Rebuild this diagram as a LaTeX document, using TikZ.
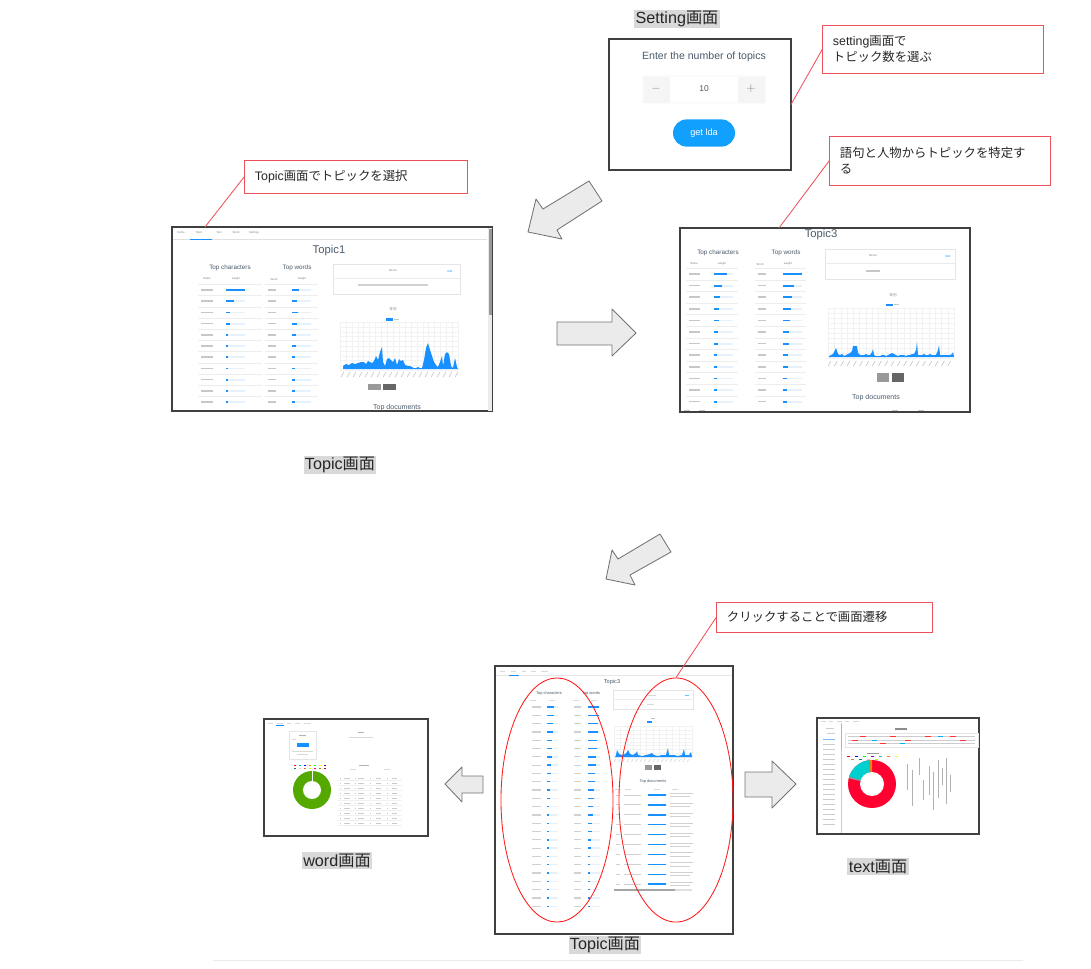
\documentclass[tikz,border=0pt]{standalone}
\usepackage{fontspec}
\setmainfont{Liberation Sans}
\newfontfamily\jp{Noto Sans CJK JP}
\usetikzlibrary{shapes.geometric}
\definecolor{antblue}{HTML}{1890FF}
\definecolor{trackblue}{HTML}{E6F1FC}
\definecolor{titlegray}{HTML}{4A5A6A}
\definecolor{notered}{HTML}{F0505A}
\definecolor{btnblue}{HTML}{12A0FF}
\definecolor{donutred}{HTML}{FF0030}
\definecolor{donutcyan}{HTML}{00CFCF}
\definecolor{donutgreen}{HTML}{55A800}
\tikzset{
  screen/.style={draw=black!75, line width=0.8pt, fill=white, inner sep=0pt, outer sep=0pt},
  note/.style={draw=notered, line width=0.7pt, inner xsep=0.25cm, inner ysep=0pt, align=left,
    font=\fontsize{8.8}{11.5}\selectfont, text=black!85},
  leader/.style={notered, line width=0.6pt},
  caption/.style={fill=black!15, inner sep=1pt, font=\fontsize{11.5}{13}\selectfont, text=black!85},
  blockarrow/.style={draw=black!55, fill=black!8, line width=0.6pt, line join=round},
  track/.style={fill=trackblue},
  barfill/.style={fill=antblue},
  ph/.style={fill=black!22},
  smalltxt/.style={font=\fontsize{2}{2}\selectfont, text=black!50, inner sep=0pt},
  head/.style={font=\fontsize{4.5}{5}\selectfont, text=titlegray, inner sep=0pt},
  grid line/.style={black!5, line width=0.15pt},
}
\begin{document}
\begin{tikzpicture}[x=0.025cm, y=-0.025cm]
\useasboundingbox (0,0) rectangle (1091,968);

% ---------- Setting screen ----------
\node[caption] (setcap) at (677,19) {Setting{\jp 画面}};
\node[screen, minimum width=4.55cm, minimum height=3.275cm] (setscreen) at (700,104.5) {};
\node[font=\fontsize{7.5}{9}\selectfont, text=titlegray] (enter) at (704,57) {Enter the number of topics};
\draw[black!10, fill=white, rounded corners=1pt, line width=0.3pt] (643,76) rectangle (765,103);
\fill[black!4] (643.5,76.5) rectangle (670,102.5);
\fill[black!4] (738,76.5) rectangle (764.5,102.5);
\node[text=black!45, font=\fontsize{8}{9}\selectfont] (minus) at (656,89) {$-$};
\node[text=black!45, font=\fontsize{8}{9}\selectfont] (plus) at (751,89) {$+$};
\node[text=black!65, font=\fontsize{6}{7}\selectfont] (num) at (704,89) {10};
\node[fill=btnblue, rounded corners=0.34cm, minimum width=1.55cm, minimum height=0.68cm,
  text=white, font=\fontsize{6.5}{7}\selectfont] (getlda) at (704,133) {get lda};

% ---------- notes ----------
\node[note, minimum width=5.5cm, minimum height=1.2cm, text width=5cm] (setnote) at (933,49)
  {setting{\jp 画面で}\\{\jp トピック数を選ぶ}};
\node[note, minimum width=5.5cm, minimum height=1.225cm, text width=5cm] (wordnote) at (940,160.5)
  {{\jp 語句と人物からトピックを特定す}\\{\jp る}};
\node[note, minimum width=5.55cm, minimum height=0.825cm, text width=5.05cm] (selnote) at (356,176.5)
  {Topic{\jp 画面でトピックを選択}};
\node[note, minimum width=5.375cm, minimum height=0.75cm, text width=4.875cm] (clicknote) at (824.5,617)
  {{\jp クリックすることで画面遷移}};

% ---------- Topic1 screen ----------
\node[screen, minimum width=8cm, minimum height=4.6cm] (topic1) at (332,319) {};
\coordinate (t1tab) at (205,227);
\foreach \x/\t in {181/Home, 199/Topic, 219/Text, 236/Word, 254/Settings}
  \node[smalltxt] at (\x,232.5) {\t};
\draw[black!12, line width=0.2pt] (173,239.5) -- (487,239.5);
\draw[antblue, line width=0.4pt] (190,239.2) -- (212,239.2);
\fill[black!8] (488,228) rectangle (492,411);
\fill[black!40] (488.5,229) rectangle (491.5,315);
\node[font=\fontsize{8}{9}\selectfont, text=titlegray] (t1title) at (329,251) {Topic1};
\node[head] (t1chars) at (230,268) {Top characters};
\node[head] (t1words) at (297,268) {Top words};
\foreach \x/\t in {207/Name, 236/weight, 274/Word, 302/weight}
  \node[smalltxt] at (\x,279) {\t};
\foreach \i/\c/\w in {0/19/7, 1/8/5, 2/4/6, 3/4/5, 4/1.5/4, 5/1.5/4, 6/1.5/3, 7/1.5/3, 8/1.5/3, 9/1.5/3, 10/1.5/3} {
  \pgfmathsetmacro\y{290+11.2*\i}
  \draw[black!7, line width=0.2pt] (198,\y-5.6) -- (262,\y-5.6) (265,\y-5.6) -- (318,\y-5.6);
  \fill[ph] (201,\y-0.8) rectangle (213,\y+0.8);
  \fill[track] (226,\y-0.9) rectangle (245,\y+0.9);
  \fill[barfill] (226,\y-0.9) rectangle (226+\c,\y+0.9);
  \fill[ph] (268,\y-0.8) rectangle (276,\y+0.8);
  \fill[track] (292,\y-0.9) rectangle (311,\y+0.9);
  \fill[barfill] (292,\y-0.9) rectangle (292+\w,\y+0.9);
}
\draw[black!10, fill=white, line width=0.3pt] (333,264) rectangle (460,294);
\draw[black!8, line width=0.2pt] (333,278) -- (460,278);
\node[smalltxt] at (393,271) {Memo};
\node[smalltxt, text=antblue] at (450,271) {Edit};
\fill[black!18] (358,284.4) rectangle (428,285.6);
\node[smalltxt, font=\jp\fontsize{2.5}{3}\selectfont] at (393,309) {年別};
\fill[antblue] (386,318) rectangle (393,320.5);
\fill[ph] (394,318.7) rectangle (399,319.8);
\foreach \k in {0,...,20} \draw[grid line] (340+\k*5.9,322) -- ++(0,48);
\foreach \k in {0,...,10} \draw[grid line] (340,322+\k*4.8) -- ++(118,0);
\fill[antblue] (343,369) -- plot coordinates {(343,366) (346,364) (349,365) (352,363) (355,364)
  (358,363) (361,362) (364,362) (366,364) (368,361) (370,362) (372,363) (374,361) (376,356)
  (378,360) (380,352) (382,347) (383,362) (385,366) (387,359) (389,358) (391,360) (393,362)
  (395,358) (397,365) (399,359) (401,361) (403,360) (405,365) (408,366) (410,366) (412,367)
  (414,368) (416,368) (418,367) (420,368) (422,368) (424,360) (426,348) (428,343) (430,350)
  (432,356) (434,362) (436,365) (438,367) (440,362) (442,356) (443,366) (445,354) (447,352)
  (449,354) (451,366) (453,368) (455,358) (457,367)} -- (458,369) -- cycle;
\foreach \k in {0,...,19} \draw[black!30, line width=0.3pt] (344+\k*6,372) -- ++(-3,5);
\fill[black!40] (368,384) rectangle (381,390);
\fill[black!60] (383,384) rectangle (396,390);
\node[head, font=\fontsize{5}{5}\selectfont] (t1docs) at (397,407.5) {Top documents};

% ---------- Topic3 screen ----------
\node[screen, minimum width=7.25cm, minimum height=4.6cm] (topic3) at (825,320) {};
\coordinate (t3tab) at (779,228);
\node[font=\fontsize{8}{9}\selectfont, text=titlegray] (t3title) at (821,234.5) {Topic3};
\node[head] (t3chars) at (718,253) {Top characters};
\node[head] (t3words) at (786,253) {Top words};
\foreach \x/\t in {694/Name, 722/weight, 760/Word, 788/weight}
  \node[smalltxt] at (\x,264) {\t};
\foreach \i/\c/\w in {0/13/19, 1/8/11, 2/6/9, 3/5/8, 4/5/7, 5/4/6, 6/4/6, 7/3/5, 8/3/5, 9/3/4, 10/3/4, 11/3/4} {
  \pgfmathsetmacro\y{274+11.6*\i}
  \draw[black!7, line width=0.2pt] (686,\y-5.8) -- (738,\y-5.8) (755,\y-5.8) -- (806,\y-5.8);
  \fill[ph] (689,\y-0.8) rectangle (700,\y+0.8);
  \fill[track] (714,\y-0.9) rectangle (733,\y+0.9);
  \fill[barfill] (714,\y-0.9) rectangle (714+\c,\y+0.9);
  \fill[ph] (758,\y-0.8) rectangle (766,\y+0.8);
  \fill[track] (783,\y-0.9) rectangle (802,\y+0.9);
  \fill[barfill] (783,\y-0.9) rectangle (783+\w,\y+0.9);
}
\draw[black!10, fill=white, line width=0.3pt] (825,249) rectangle (955,279);
\draw[black!8, line width=0.2pt] (825,263) -- (955,263);
\node[smalltxt] at (873,256) {Memo};
\node[smalltxt, text=antblue] at (948,256) {Edit};
\fill[ph] (866,270.3) rectangle (880,271.7);
\node[smalltxt, font=\jp\fontsize{2.5}{3}\selectfont] at (893,295) {年別};
\fill[antblue] (886,303.5) rectangle (893,306);
\fill[ph] (894,304.2) rectangle (899,305.3);
\foreach \k in {0,...,20} \draw[grid line] (828+\k*6.3,308) -- ++(0,50);
\foreach \k in {0,...,10} \draw[grid line] (828,308+\k*5) -- ++(126,0);
\fill[antblue] (829,357) -- plot coordinates {(829,356) (831,355) (833,354) (835,350) (836,348)
  (838,354) (840,355) (842,354) (844,356) (846,355) (848,354) (850,353) (852,351) (853,346)
  (855,346) (857,346) (858,353) (860,355) (862,355) (864,355) (866,354) (868,355) (870,355)
  (872,352) (873,349) (874,355) (876,356) (878,356) (880,356) (882,355) (884,355) (886,356)
  (888,355) (890,354) (892,353) (894,354) (896,355) (898,356) (900,355) (902,355) (904,355)
  (906,356) (908,355) (910,355) (912,354) (914,354) (916,350) (917,342) (918,355) (920,355)
  (922,355) (924,354) (926,355) (928,355) (930,354) (932,355) (934,355) (936,355) (938,350)
  (939,345) (940,355) (942,355) (944,355) (946,355) (948,355) (950,355) (952,354) (953,352)} -- (954,357) -- cycle;
\foreach \k in {0,...,19} \draw[black!30, line width=0.3pt] (831+\k*6.3,361) -- ++(-3,5);
\fill[black!40] (877,373) rectangle (889,382);
\fill[black!60] (892,373) rectangle (904,382);
\node[head, font=\fontsize{5}{5}\selectfont] (t3docs) at (876,398) {Top documents};
\foreach \x in {687, 702, 895, 921} \fill[ph] (\x-3,409.5) rectangle (\x+3,410.7);

% ---------- big arrows ----------
\draw[blockarrow] (528,232) -- (536,199) -- (543,209) -- (589,181) -- (602,201) -- (557,230) -- (562,239) -- cycle;
\draw[blockarrow] (557,322) -- (612,322) -- (612,309) -- (636,333) -- (612,356) -- (612,345) -- (557,345) -- cycle;
\draw[blockarrow] (606,579) -- (612,550) -- (618,559) -- (660,534) -- (671,552) -- (630,575) -- (635,585) -- cycle;
\draw[blockarrow] (445,784) -- (462,767) -- (462,776) -- (483,776) -- (483,793) -- (462,793) -- (462,802) -- cycle;
\draw[blockarrow] (796,784) -- (772,761) -- (772,772) -- (745,772) -- (745,797) -- (772,797) -- (772,808) -- cycle;

\node[caption] (topiccap) at (340,465) {Topic{\jp 画面}};

% ---------- Topic screen (bottom) ----------
\node[screen, minimum width=5.95cm, minimum height=6.7cm] (topicb) at (614,800) {};
\foreach \x/\w in {500/5, 511/5, 522/4, 531/5, 541/7} \fill[black!15] (\x,670.6) rectangle (\x+\w,671.4);
\draw[black!10, line width=0.2pt] (496,675) -- (732,675);
\draw[antblue, line width=0.3pt] (509,674.8) -- (519,674.8);
\node[head, font=\fontsize{4}{4}\selectfont] (tbtitle) at (612,682) {Topic3};
\node[head, font=\fontsize{2.8}{3}\selectfont] (tbchars) at (549,693) {Top characters};
\node[head, font=\fontsize{2.8}{3}\selectfont] (tbwords) at (591,693) {Top words};
\foreach \x in {533, 552, 576, 594} \fill[black!15] (\x-3,699.6) rectangle (\x+3,700.4);
\foreach \i in {0,...,24} {
  \pgfmathsetmacro\y{707+8.3*\i}
  \pgfmathsetmacro\c{max(1.5,7-0.4*\i)}
  \pgfmathsetmacro\w{max(2,11-0.5*\i)}
  \fill[black!18] (532,\y-0.6) rectangle (541,\y+0.6);
  \fill[track] (547,\y-0.7) rectangle (558,\y+0.7);
  \fill[barfill] (547,\y-0.7) rectangle (547+\c,\y+0.7);
  \fill[black!18] (574,\y-0.6) rectangle (581,\y+0.6);
  \fill[track] (588,\y-0.7) rectangle (600,\y+0.7);
  \fill[barfill] (588,\y-0.7) rectangle (588+\w,\y+0.7);
}
\draw[black!10, line width=0.3pt] (613,690) rectangle (693,709);
\draw[black!8, line width=0.2pt] (613,699) -- (693,699);
\fill[black!15] (648,694.6) rectangle (656,695.4);
\fill[antblue!60] (685,694.6) rectangle (689,695.4);
\fill[black!15] (647,703.6) rectangle (654,704.4);
\fill[black!25] (651,717.6) rectangle (655,718.4);
\fill[antblue] (647,721) rectangle (652,722.5);
\foreach \k in {0,...,12} \draw[grid line] (614+\k*6.5,726) -- ++(0,31);
\foreach \k in {0,...,8} \draw[grid line] (614,726+\k*3.9) -- ++(78,0);
\fill[antblue] (615,757) -- plot coordinates {(616,755) (617,750) (619,754) (622,755) (625,754)
  (627,752) (628,750) (630,754) (633,755) (636,753) (637,751) (638,755) (642,756) (646,755)
  (650,754) (652,753) (654,755) (658,756) (662,755) (666,755) (668,748) (669,755) (674,755)
  (678,756) (682,755) (684,749) (685,755) (689,755) (691,752)} -- (692,757) -- cycle;
\foreach \k in {0,...,17} \draw[black!25, line width=0.2pt] (616+\k*4.3,759) -- ++(-2,3);
\fill[black!40] (645,765) rectangle (652,770);
\fill[black!60] (654,765) rectangle (661,770);
\node[head, font=\fontsize{2.8}{3}\selectfont] (tbdocs) at (653,781) {Top documents};
\foreach \x in {618, 628, 657, 675} \fill[black!15] (\x-3,788.6) rectangle (\x+3,789.4);
\foreach \i in {0,...,9} {
  \pgfmathsetmacro\y{795+9.9*\i}
  \fill[black!18] (616,\y-0.5) rectangle (620,\y+0.5);
  \fill[black!18] (624,\y-0.5) rectangle (641,\y+0.5);
  \fill[track] (648,\y-0.7) rectangle (667,\y+0.7);
  \fill[barfill] (648,\y-0.7) rectangle (666,\y+0.7);
  \fill[black!18] (670,\y-2) rectangle (693,\y-1.2);
  \fill[black!18] (670,\y+1.2) rectangle (690,\y+2);
}
\fill[black!12] (614,888.5) rectangle (692,890.5);
\fill[black!35] (614,888.5) rectangle (675,890.5);
\node[ellipse, draw=red!90!white, line width=0.6pt, minimum width=2.8cm, minimum height=6.1cm] (ellL) at (557,800) {};
\node[ellipse, draw=red!90!white, line width=0.6pt, minimum width=2.85cm, minimum height=6.1cm] (ellR) at (676,800) {};
\node[caption] (topicbcap) at (605,945) {Topic{\jp 画面}};

% ---------- word screen ----------
\node[screen, minimum width=4.1cm, minimum height=2.925cm] (wordscreen) at (346,777.5) {};
\foreach \x/\w in {268/5, 277/6, 287/4, 295/5, 304/7} \fill[black!15] (\x,722.6) rectangle (\x+\w,723.4);
\draw[antblue, line width=0.3pt] (276,725.5) -- (284,725.5);
\draw[black!10, line width=0.3pt] (289,731) rectangle (316,759);
\fill[black!30] (299,734.6) rectangle (306,735.4);
\fill[black!15] (292,738.6) rectangle (296,739.4);
\fill[antblue] (297,743) rectangle (309,747);
\fill[black!15] (292,750.6) rectangle (313,751.4);
\fill[black!15] (297,753.6) rectangle (308,754.4);
\fill[black!30] (358,731.6) rectangle (364,732.6);
\fill[black!15] (349,736.6) rectangle (373,737.4);
\foreach \x/\col in {294/red, 299/cyan, 304/blue, 309/orange, 314/green, 319/yellow, 324/violet}
  \fill[\col] (\x,765) rectangle (\x+2,766.2);
\foreach \x/\col in {294/teal, 299/pink, 304/brown, 309/lime, 314/magenta, 319/olive, 324/purple}
  \fill[\col] (\x,768) rectangle (\x+2,769.2);
\fill[donutgreen] (312,790) circle (19);
\fill[white] (312,790) circle (9);
\draw[white, line width=0.2pt] (312,771) -- (312,781);
\fill[black!30] (359,764.6) rectangle (369,765.4);
\foreach \x in {353, 387} \fill[black!15] (\x-3,768.6) rectangle (\x+3,769.4);
\foreach \i in {0,...,9} {
  \pgfmathsetmacro\y{778+5*\i}
  \draw[black!6, line width=0.15pt] (338,\y+2.5) -- (402,\y+2.5);
  \foreach \x/\w in {340/1, 344/6, 355/1, 358/6, 370/1, 376/5, 387/1, 392/5} \fill[black!20] (\x,\y-0.4) rectangle (\x+\w,\y+0.4);
}
\node[caption] (wordcap) at (337,860.5) {word{\jp 画面}};

% ---------- text screen ----------
\node[screen, minimum width=4.05cm, minimum height=2.9cm] (textscreen) at (898,776) {};
\foreach \x/\w in {821/5, 829/4, 837/5, 845/4, 853/6} \fill[black!15] (\x,720.6) rectangle (\x+\w,721.4);
\draw[black!20, line width=0.3pt] (841,723) -- (841,833);
\fill[black!30] (840.5,724) rectangle (841.5,750);
\fill[black!20] (826,727.6) rectangle (834,728.4);
\fill[black!20] (827,732.6) rectangle (835,733.4);
\fill[antblue!60] (823,738.6) rectangle (835,739.4);
\foreach \i in {1,...,17} \fill[black!20] (823,738.6+5*\i) rectangle (835,739.4+5*\i);
\fill[black!45] (895,728.3) rectangle (907,729.7);
\draw[black!10, line width=0.2pt] (845,733) rectangle (978,747);
\foreach \y in {736.5, 740, 743.5} \fill[black!20] (848,\y-0.35) rectangle (975,\y+0.35);
\foreach \x/\y in {860/736.5, 890/736.5, 925/736.5, 950/736.5, 852/740, 905/740, 960/740, 880/743.5}
  \fill[red!80] (\x,\y-0.35) rectangle (\x+6,\y+0.35);
\foreach \x/\y in {872/740, 938/736.5, 900/743.5} \fill[cyan] (\x,\y-0.35) rectangle (\x+5,\y+0.35);
\fill[black!40] (867,752.6) rectangle (879,753.4);
\foreach \x/\col in {847/donutred, 855/blue, 863/green, 871/violet, 879/donutcyan, 887/orange, 895/yellow}
  \fill[\col] (\x,756) rectangle (\x+2.5,757);
\foreach \x/\col in {851/brown, 859/teal, 867/pink, 875/lime}
  \fill[\col] (\x,759) rectangle (\x+2.5,760);
\fill[donutred] (872,784) circle (24);
\fill[donutcyan] (872,784) -- ++(-97:24) arc[start angle=-97, end angle=-162, radius=24] -- cycle;
\fill[black!40] (872,784) -- ++(-162:24) arc[start angle=-162, end angle=-166, radius=24] -- cycle;
\fill[orange!80!brown] (872,784) -- ++(-90:24) arc[start angle=-90, end angle=-97, radius=24] -- cycle;
\fill[white] (872,784) circle (12);
\foreach \x/\a/\b in {907/764/790, 912/770/806, 919/758/775, 923/780/800, 929/766/795,
  933/772/810, 938/760/798, 942/768/785, 946/758/804, 950/775/792}
  \draw[black!30, line width=0.25pt] (\x,\a) -- (\x,\b);
\node[caption] (textcap) at (878,866.5) {text{\jp 画面}};

% ---------- leaders ----------
\draw[leader] (setnote.west) -- (setscreen.east);
\draw[leader] (wordnote.west) -- (t3tab);
\draw[leader] (selnote.west) -- (t1tab);
\draw[leader] (clicknote.west) -- (ellR.north);

\draw[black!8, line width=0.4pt] (213,960) -- (1023,960);
\end{tikzpicture}
\end{document}
